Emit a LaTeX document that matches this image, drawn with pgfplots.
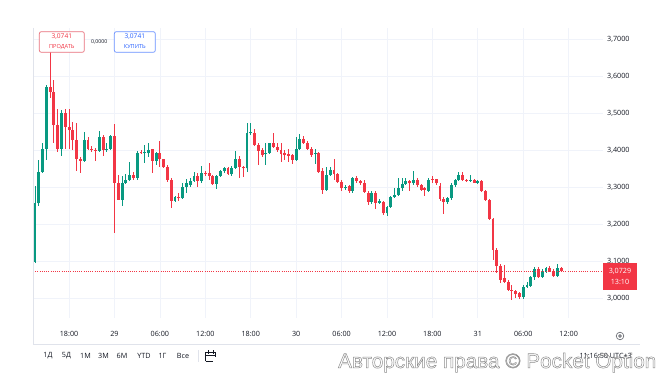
\documentclass[border=0pt]{standalone}
\usepackage{pgfplots}
\pgfplotsset{compat=1.18}
\usepackage{pgfplotstable}
\usepackage{fontspec}
\setmainfont{Open Sans}
\newfontfamily\wmfont{Liberation Sans}
\definecolor{upc}{HTML}{089981}
\definecolor{downc}{HTML}{F23645}
\definecolor{gridc}{HTML}{F0F3FA}
\definecolor{textc}{HTML}{131722}
\definecolor{borderc}{HTML}{E0E3EB}
\definecolor{buyc}{HTML}{2962FF}
\definecolor{sellc}{HTML}{E8707B}
% rising candles: slot (30 min), open, high, low, close
\pgfplotstableread{
i o h l c
0 3.098 3.303 3.094 3.256
1 3.256 3.373 3.250 3.341
2 3.341 3.420 3.338 3.404
3 3.404 3.575 3.373 3.569
7 3.404 3.508 3.384 3.499
13 3.371 3.449 3.368 3.427
17 3.398 3.452 3.395 3.436
19 3.401 3.420 3.395 3.404
20 3.404 3.440 3.400 3.438
23 3.266 3.330 3.248 3.312
24 3.312 3.335 3.310 3.319
25 3.319 3.368 3.315 3.332
27 3.325 3.396 3.320 3.391
29 3.391 3.413 3.364 3.393
30 3.391 3.420 3.382 3.400
32 3.371 3.395 3.360 3.393
37 3.263 3.276 3.260 3.274
39 3.269 3.310 3.267 3.300
40 3.300 3.322 3.285 3.310
41 3.305 3.325 3.300 3.317
42 3.317 3.340 3.314 3.330
44 3.317 3.357 3.310 3.339
48 3.308 3.332 3.294 3.330
49 3.330 3.346 3.328 3.343
50 3.343 3.355 3.339 3.352
52 3.335 3.356 3.330 3.352
53 3.352 3.398 3.350 3.375
56 3.350 3.472 3.340 3.445
57 3.445 3.472 3.440 3.447
61 3.389 3.418 3.359 3.391
62 3.391 3.420 3.388 3.418
69 3.373 3.434 3.370 3.404
70 3.404 3.442 3.400 3.431
74 3.389 3.404 3.362 3.391
77 3.292 3.355 3.290 3.332
78 3.332 3.355 3.330 3.346
82 3.296 3.305 3.292 3.300
84 3.290 3.326 3.285 3.323
89 3.260 3.290 3.255 3.285
91 3.258 3.268 3.255 3.262
93 3.229 3.250 3.222 3.247
94 3.247 3.275 3.245 3.272
95 3.272 3.298 3.270 3.278
96 3.278 3.323 3.275 3.296
97 3.296 3.323 3.290 3.308
98 3.308 3.323 3.305 3.316
100 3.310 3.343 3.306 3.320
104 3.290 3.325 3.288 3.319
109 3.260 3.272 3.255 3.269
110 3.269 3.310 3.265 3.305
111 3.305 3.322 3.300 3.319
112 3.319 3.341 3.315 3.332
115 3.316 3.332 3.314 3.319
117 3.311 3.320 3.309 3.317
129 3.004 3.034 2.997 3.031
130 3.031 3.042 3.028 3.036
131 3.033 3.060 3.030 3.056
132 3.056 3.083 3.050 3.078
134 3.058 3.078 3.055 3.071
135 3.071 3.085 3.068 3.080
138 3.060 3.092 3.058 3.082
}\upTable
% falling candles
\pgfplotstableread{
i o h l c
4 3.569 3.665 3.540 3.557
5 3.557 3.589 3.420 3.467
6 3.467 3.510 3.395 3.404
8 3.499 3.510 3.404 3.463
9 3.463 3.510 3.404 3.454
10 3.454 3.476 3.400 3.427
11 3.427 3.474 3.344 3.375
12 3.375 3.380 3.338 3.371
14 3.427 3.436 3.400 3.404
15 3.404 3.410 3.395 3.401
16 3.401 3.405 3.370 3.398
18 3.436 3.440 3.384 3.401
21 3.438 3.469 3.176 3.312
22 3.312 3.332 3.264 3.266
26 3.332 3.340 3.320 3.325
28 3.394 3.400 3.388 3.391
31 3.402 3.404 3.337 3.371
33 3.393 3.424 3.355 3.375
34 3.375 3.377 3.350 3.353
35 3.353 3.359 3.314 3.319
36 3.319 3.323 3.242 3.263
38 3.274 3.283 3.263 3.269
43 3.330 3.337 3.299 3.317
45 3.339 3.342 3.330 3.335
46 3.337 3.366 3.319 3.330
47 3.330 3.332 3.305 3.308
51 3.352 3.355 3.332 3.335
54 3.375 3.385 3.325 3.355
55 3.355 3.358 3.326 3.350
58 3.447 3.458 3.410 3.413
59 3.413 3.420 3.360 3.398
60 3.400 3.405 3.382 3.386
63 3.418 3.445 3.405 3.409
64 3.409 3.420 3.395 3.400
65 3.400 3.420 3.368 3.389
66 3.393 3.400 3.373 3.386
67 3.389 3.404 3.368 3.384
68 3.386 3.390 3.361 3.373
71 3.431 3.438 3.415 3.418
72 3.420 3.425 3.400 3.404
73 3.404 3.408 3.380 3.386
75 3.391 3.395 3.338 3.341
76 3.344 3.350 3.280 3.292
79 3.346 3.375 3.319 3.335
80 3.335 3.338 3.310 3.314
81 3.314 3.319 3.290 3.296
83 3.302 3.305 3.285 3.290
85 3.323 3.330 3.310 3.317
86 3.317 3.320 3.305 3.310
87 3.310 3.319 3.283 3.287
88 3.285 3.290 3.251 3.260
90 3.283 3.288 3.240 3.258
92 3.260 3.262 3.225 3.229
99 3.316 3.318 3.288 3.310
101 3.320 3.325 3.300 3.305
102 3.305 3.308 3.290 3.293
103 3.298 3.300 3.275 3.292
105 3.321 3.330 3.312 3.319
106 3.321 3.322 3.305 3.310
107 3.303 3.310 3.262 3.268
108 3.268 3.272 3.227 3.260
113 3.332 3.341 3.315 3.319
114 3.319 3.322 3.314 3.316
116 3.319 3.322 3.310 3.312
118 3.317 3.320 3.287 3.290
119 3.290 3.292 3.262 3.266
120 3.266 3.268 3.210 3.214
121 3.214 3.216 3.104 3.130
122 3.130 3.135 3.067 3.087
123 3.087 3.092 3.041 3.050
124 3.055 3.090 3.041 3.044
125 3.044 3.048 3.020 3.022
126 3.023 3.035 2.995 3.020
127 3.020 3.022 3.000 3.011
128 3.013 3.015 2.998 3.004
133 3.078 3.083 3.054 3.056
136 3.080 3.086 3.070 3.073
137 3.071 3.078 3.058 3.060
139 3.082 3.085 3.070 3.0729
}\downTable
\pgfplotsset{candle/.style={only marks, mark=*, mark size=0pt,
  mark options={draw=none, fill=none}, forget plot}}
\begin{document}
\begin{tikzpicture}
\path[use as bounding box, fill=white] (0pt,0pt) rectangle (661pt,374pt);
\begin{axis}[
  at={(33pt,56pt)}, anchor=south west,
  scale only axis, width=570pt, height=290pt,
  xmin=-0.53, xmax=150.07, ymin=2.946, ymax=3.7297,
  axis line style={draw=none},
  major tick length=0pt,
  xtick={9,21,33,45,57,69,81,93,105,117,129,141},
  xticklabels={18:00,29,06:00,12:00,18:00,30,06:00,12:00,18:00,31,06:00,12:00},
  ytick={3,3.1,3.2,3.3,3.4,3.5,3.6,3.7},
  yticklabels={{3,0000},{3,1000},{3,2000},{3,3000},{3,4000},{3,5000},{3,6000},{3,7000}},
  yticklabel pos=right,
  ticklabel style={font=\fontsize{7.2}{9}\selectfont, text=textc},
  xticklabel style={anchor=center, yshift=-16pt},
  yticklabel style={anchor=west, inner sep=0pt, xshift=4pt},
  grid=major, major grid style={draw=gridc, line width=0.8pt},
]
% wicks
\addplot[candle, error bars/.cd, y dir=both, y explicit, error mark=none,
  error bar style={draw=upc, line width=0.9pt}]
  table[x=i, y=o, y error plus expr={\thisrow{h}-\thisrow{o}}, y error minus expr={\thisrow{o}-\thisrow{l}}] {\upTable};
\addplot[candle, error bars/.cd, y dir=both, y explicit, error mark=none,
  error bar style={draw=downc, line width=0.9pt}]
  table[x=i, y=o, y error plus expr={\thisrow{h}-\thisrow{o}}, y error minus expr={\thisrow{o}-\thisrow{l}}] {\downTable};
% bodies
\addplot[candle, error bars/.cd, y dir=both, y explicit, error mark=none,
  error bar style={draw=upc, line width=2.9pt, line cap=butt}]
  table[x=i, y=o, y error plus expr={max(\thisrow{c}-\thisrow{o},0.0027)}, y error minus expr={0}] {\upTable};
\addplot[candle, error bars/.cd, y dir=both, y explicit, error mark=none,
  error bar style={draw=downc, line width=2.9pt, line cap=butt}]
  table[x=i, y=c, y error plus expr={max(\thisrow{o}-\thisrow{c},0.0027)}, y error minus expr={0}] {\downTable};
% current price line
\addplot[downc, line width=0.7pt, dash pattern=on 0.8pt off 1.4pt] coordinates {(-0.53,3.0729) (150.07,3.0729)};
\end{axis}
% frame lines
\draw[borderc, line width=1.6pt] (33.5pt,346pt) -- (33.5pt,30pt);
\draw[borderc, line width=0.8pt] (33pt,30pt) -- (640pt,30pt);
% price tag
\fill[downc] (603pt,84pt) rectangle (637pt,111pt);
\node[text=white, font=\fontsize{7.2}{8}\selectfont, inner sep=0pt] at (620pt,103pt) {3,0729};
\node[text=white, font=\fontsize{7.2}{8}\selectfont, inner sep=0pt] at (620pt,92pt) {13:10};
% gear
\draw[textc!70, line width=0.6pt] (620pt,38pt) circle (3.8pt);
\draw[textc!70, line width=0.6pt] (620pt,38pt) circle (1.4pt);
% sell / buy boxes
\draw[sellc, fill=white, rounded corners=2pt, line width=0.7pt] (39.3pt,321.7pt) rectangle (84.3pt,342.3pt);
\node[text=downc, font=\fontsize{6.6}{8}\selectfont, inner sep=0pt] at (61.8pt,337pt) {3,0741};
\node[text=downc, font=\fontsize{5.6}{7}\selectfont, inner sep=0pt] at (61.8pt,327.3pt) {ПРОДАТЬ};
\node[text=textc, font=\fontsize{5.2}{6}\selectfont, inner sep=0pt] at (99.3pt,332pt) {0,0000};
\draw[buyc!70, fill=white, rounded corners=2pt, line width=0.7pt] (114.3pt,321.7pt) rectangle (155.3pt,342.3pt);
\node[text=buyc, font=\fontsize{6.6}{8}\selectfont, inner sep=0pt] at (134.8pt,337pt) {3,0741};
\node[text=buyc, font=\fontsize{5.6}{7}\selectfont, inner sep=0pt] at (134.8pt,327.3pt) {КУПИТЬ};
% bottom toolbar
\foreach \t/\x in {1Д/48, 5Д/66.5, 1М/85.5, 3М/103.5, 6М/122, YTD/144, 1Г/162.5, Все/183}
  \node[text=textc, font=\fontsize{7.2}{8}\selectfont, inner sep=0pt] at (\x pt,18pt) {\t};
\draw[borderc, line width=0.8pt] (198pt,12pt) -- (198pt,24pt);
\draw[textc, line width=0.6pt] (205.5pt,12.5pt) -- (205.5pt,21.5pt) -- (215.5pt,21.5pt) -- (215.5pt,17pt);
\draw[textc, line width=0.6pt] (205.5pt,12.5pt) -- (213pt,12.5pt);
\draw[textc, line width=0.6pt] (208pt,20pt) -- (208pt,24pt) (213pt,20pt) -- (213pt,24pt);
\draw[textc, line width=0.6pt] (205.5pt,18.5pt) -- (215.5pt,18.5pt);
\node[anchor=east, text=textc, font=\fontsize{7.2}{8}\selectfont, inner sep=0pt] at (632pt,18pt) {11:16:50 UTC+3};
% watermark
\node[anchor=base west, inner sep=0pt, text=black!45] at (338pt,6pt)
  {\wmfont\fontsize{20.7}{21}\selectfont\special{pdf:literal direct 1 Tr 0.5 w}Авторские права © Pocket Option\special{pdf:literal direct 0 Tr}};
\end{tikzpicture}
\end{document}
